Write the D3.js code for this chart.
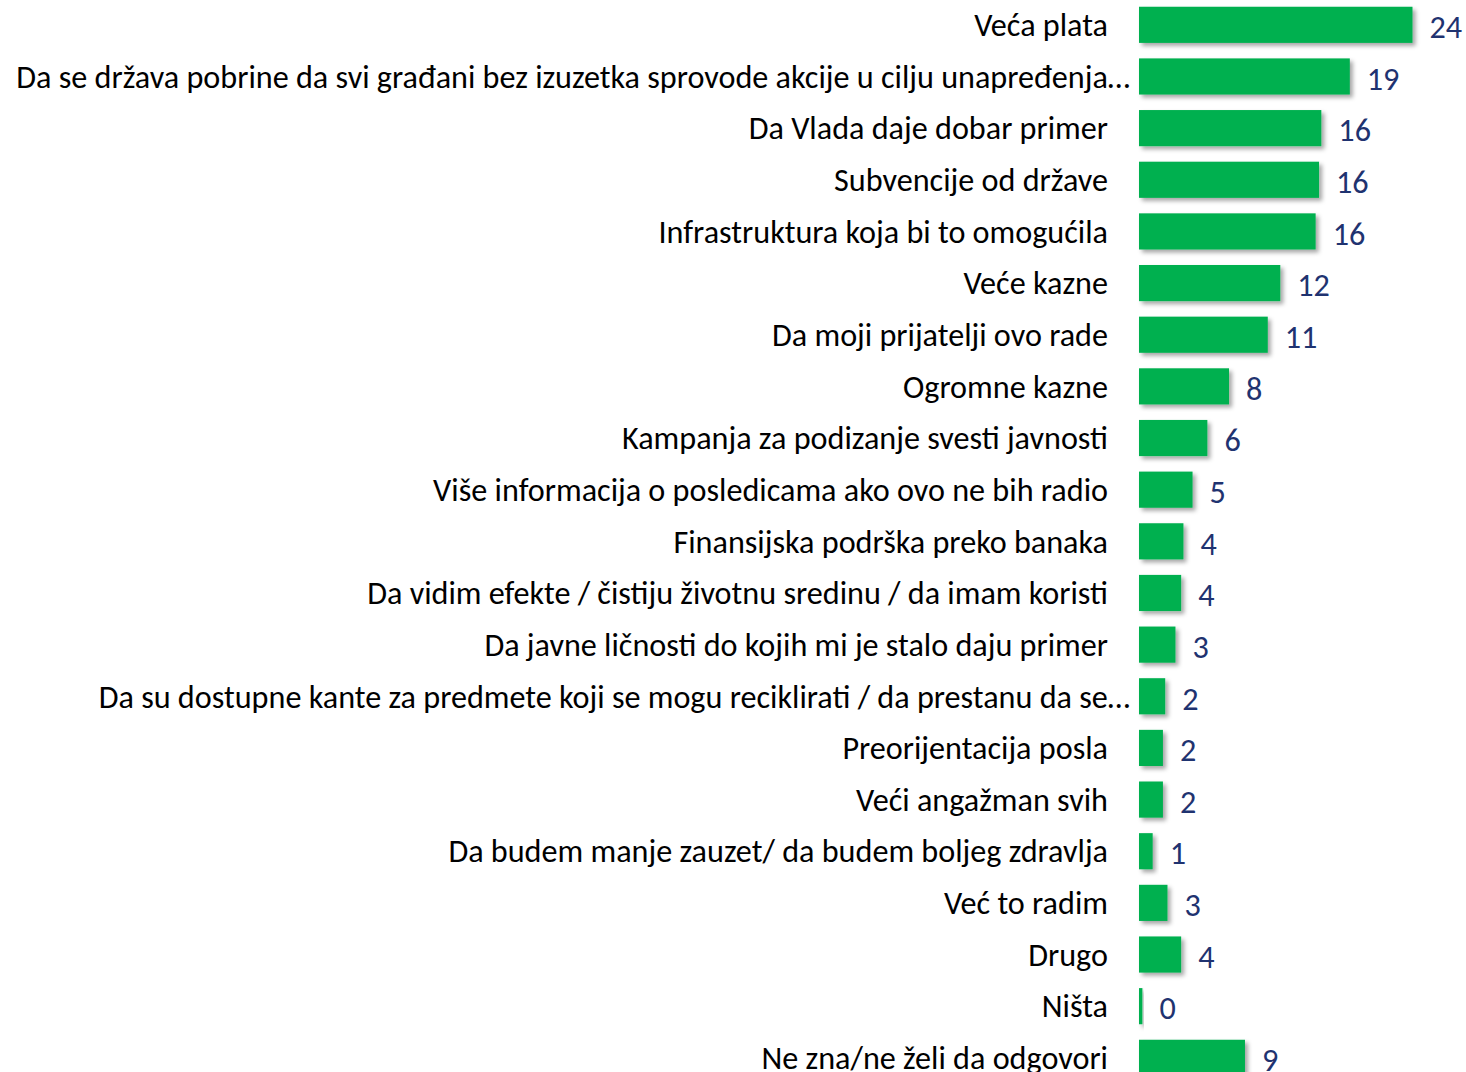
<!DOCTYPE html>
<html>
<head>
<meta charset="UTF-8">
<style>
  body { margin: 0; background: #fff; }
  svg { display: block; }
  text { font-family: Carlito, Calibri, "Open Sans", sans-serif; }
</style>
</head>
<body>
<svg></svg>
<script src="https://d3js.org/d3.v7.min.js"></script>
<script>
const categories = [
  "Veća plata",
  "Da se država pobrine da svi građani bez izuzetka sprovode akcije u cilju unapređenja…",
  "Da Vlada daje dobar primer",
  "Subvencije od države",
  "Infrastruktura koja bi to omogućila",
  "Veće kazne",
  "Da moji prijatelji ovo rade",
  "Ogromne kazne",
  "Kampanja za podizanje svesti javnosti",
  "Više informacija o posledicama ako ovo ne bih radio",
  "Finansijska podrška preko banaka",
  "Da vidim efekte / čistiju životnu sredinu / da imam koristi",
  "Da javne ličnosti do kojih mi je stalo daju primer",
  "Da su dostupne kante za predmete koji se mogu reciklirati / da prestanu da se…",
  "Preorijentacija posla",
  "Veći angažman svih",
  "Da budem manje zauzet/ da budem boljeg zdravlja",
  "Već to radim",
  "Drugo",
  "Ništa",
  "Ne zna/ne želi da odgovori"
];
const values = [24.0, 18.5, 16.0, 15.8, 15.5, 12.4, 11.3, 7.9, 6.0, 4.7, 3.9, 3.7, 3.2, 2.3, 2.1, 2.1, 1.2, 2.5, 3.7, 0.3, 9.3];

const width = 1466, height = 1072;
const svg = d3.select("svg").attr("width", width).attr("height", height);

const defs = svg.append("defs");
defs.append("filter").attr("id", "shadow")
  .attr("x", "-20%").attr("y", "-30%").attr("width", "160%").attr("height", "180%")
  .append("feDropShadow")
  .attr("dx", 3).attr("dy", 3).attr("stdDeviation", 2)
  .attr("flood-color", "#000").attr("flood-opacity", 0.35);

const x0 = 1139;
const x = d3.scaleLinear().domain([0, 24]).range([x0, 1412.5]);
const y = d3.scaleBand().domain(categories)
  .range([-1, 21 * 51.65 - 1]).paddingInner(0.3).paddingOuter(0.15);

const row = svg.append("g").selectAll("g")
  .data(categories.map((c, i) => ({ c, v: values[i] })))
  .join("g");

row.append("rect")
  .attr("x", x0)
  .attr("y", d => y(d.c))
  .attr("width", d => x(d.v) - x0)
  .attr("height", y.bandwidth())
  .attr("fill", "#00B050")
  .attr("filter", "url(#shadow)");

const labels = row.append("text")
  .attr("x", d => d.c.endsWith("…") ? x0 - 9 : x0 - 31)
  .attr("y", d => y(d.c) + y.bandwidth() / 2)
  .attr("dy", "0.35em")
  .attr("text-anchor", "end")
  .attr("font-size", 26)
  .attr("fill", "#000")
  .text(d => d.c);

// fit font so the longest label spans like the original (~1114px)
const longest = d3.max(labels.nodes(), n => n.getComputedTextLength());
const fs = 26 * 1114 / longest;
labels.attr("font-size", fs);

row.append("text")
  .attr("x", d => x(d.v) + 17)
  .attr("y", d => y(d.c) + y.bandwidth() / 2 + 2)
  .attr("dy", "0.35em")
  .attr("font-size", fs)
  .attr("fill", "#1F3370")
  .text(d => d3.format(".0f")(d.v));
</script>
</body>
</html>
